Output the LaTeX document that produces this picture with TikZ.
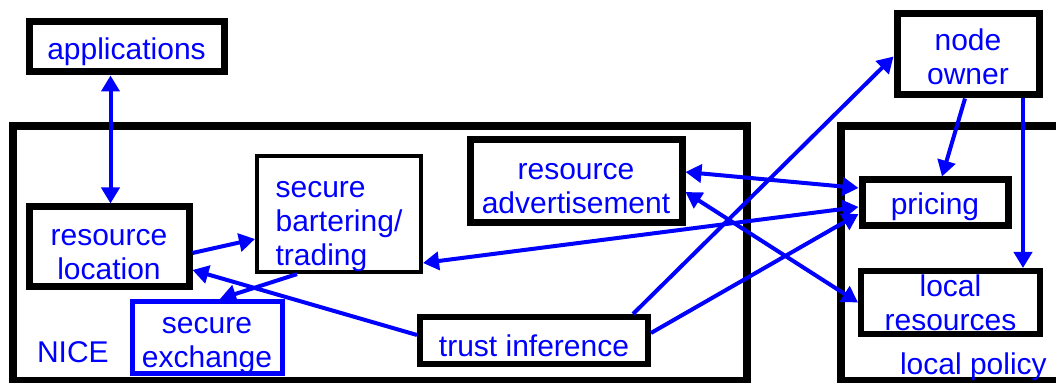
\documentclass[tikz,border=0pt]{standalone}
\usepackage{fontspec}
\setmainfont{Liberation Sans}
\usetikzlibrary{arrows.meta}
\definecolor{niceblue}{RGB}{0,0,255}
\newcommand{\topgap}[1]{\rule{0pt}{#1}}
\tikzstyle{block} = [rectangle, draw=black, line width=3.5pt, text=niceblue, align=center, inner sep=0pt]
\tikzstyle{arrow} = [line width=2pt, draw=niceblue, -{Triangle[length=8pt,width=9pt]}]
\tikzstyle{twoway} = [arrow, {Triangle[length=8pt,width=9pt]}-{Triangle[length=8pt,width=9pt]}]

\begin{document}
\begin{tikzpicture}[x=0.5pt, y=-0.5pt, font=\fontsize{15}{17}\selectfont]
\useasboundingbox (0,0) rectangle (1056,383);

% containers
\node (nice) [draw, line width=4pt, minimum width=367pt, minimum height=127.5pt, inner sep=0pt] at (380,253.5) {};
\node (nicelabel) [text=niceblue, anchor=base west] at (30,363) {NICE};
\draw [line width=4pt] (1120,126) -| (841,381) -- (1120,381);
\node (policylabel) [text=niceblue, anchor=base west] at (893,375) {local policy};

% blocks
\node (apps) [block, minimum width=97.5pt, minimum height=25pt] at (126.5,47) {\topgap{16pt}applications};
\node (loc) [block, minimum width=80pt, minimum height=40pt] at (109,247) {\topgap{16pt}resource\\location};
\node (barter) [block, line width=2pt, minimum width=82pt, minimum height=56pt, align=left] at (339,214) {\topgap{21pt}secure\\bartering/\\trading};
\node (exch) [block, draw=niceblue, line width=2.5pt, minimum width=75pt, minimum height=35.5pt] at (207,337.5) {\topgap{16pt}secure\\exchange};
\node (advert) [block, minimum width=106pt, minimum height=41.5pt] at (576,181.5) {\topgap{15pt}resource\\advertisement};
\node (trust) [block, line width=3pt, minimum width=114pt, minimum height=23.5pt] at (534,340.5) {\topgap{16pt}trust inference};
\node (owner) [block, minimum width=71pt, minimum height=40.5pt] at (968,54.5) {\topgap{13pt}node\\owner};
\node (pricing) [block, minimum width=73pt, minimum height=23pt] at (935,203) {\topgap{15pt}pricing};
\node (locres) [block, line width=3pt, minimum width=89.5pt, minimum height=31.5pt] at (950.5,302.5) {local\\resources};

% connectors
\draw [twoway] ([xshift=-8pt]apps.south) -- ([xshift=-8pt]apps.south |- loc.north);
\draw [arrow] ([yshift=-3pt]loc.east) -- ([yshift=-12.5pt]barter.west);
\draw [arrow] ([yshift=2.75pt]trust.west) -- ([yshift=-11.5pt]loc.east);
\draw [arrow] ([xshift=-21pt]barter.south) -- ([xshift=6.5pt]exch.north);
\draw [twoway] ([yshift=-2pt]pricing.west) -- ([yshift=-24.5pt]barter.east);
\draw [twoway] ([yshift=4.75pt]advert.east) -- ([yshift=7.5pt]pricing.west);
\draw [twoway] ([yshift=-5.25pt]advert.east) -- (locres.west);
\draw [arrow] ([yshift=3.75pt]trust.east) -- ([yshift=-5.5pt]pricing.west);
\draw [arrow] ([xshift=49.5pt]trust.north) -- ([yshift=-1pt]owner.west);
\draw [arrow] ([xshift=-1.5pt]owner.south) -- ([xshift=3.5pt]pricing.north);
\draw [arrow] ([xshift=27.5pt]owner.south) -- ([xshift=27.5pt]owner.south |- locres.north);

\end{tikzpicture}
\end{document}
